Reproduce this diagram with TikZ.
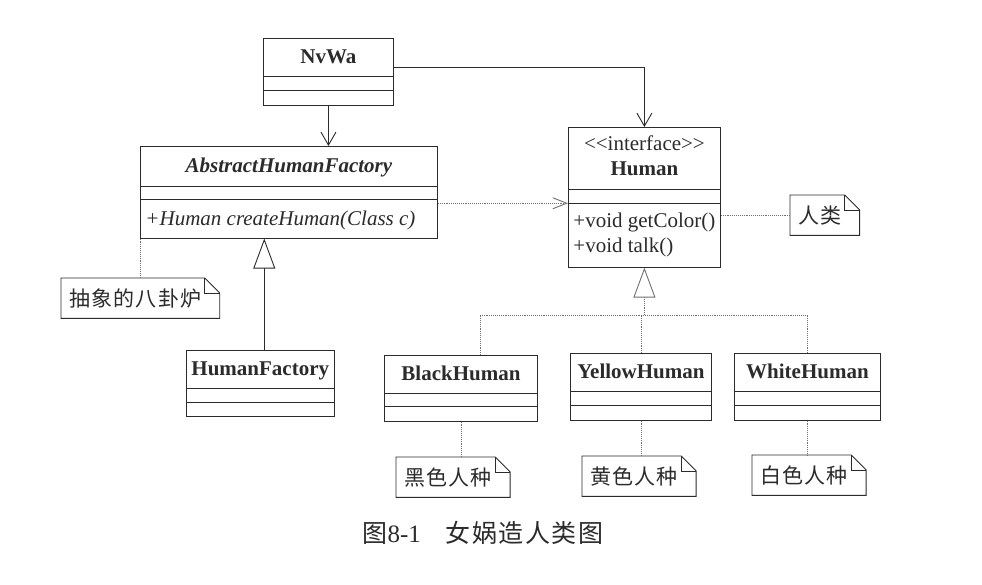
\documentclass[tikz,border=0pt]{standalone}
\usepackage{fontspec}
\setmainfont{Liberation Serif}
\newfontfamily\cjk[LetterSpace=6]{Noto Sans CJK SC}
\usetikzlibrary{arrows.meta,shapes.multipart}
\definecolor{umlink}{HTML}{2B2B2B}
\definecolor{umldots}{HTML}{707070}
\newcommand\titlestrut{\rule[-12pt]{0pt}{37pt}}
\newcommand\slotstrut[1]{\rule{0pt}{#1pt}}

\begin{document}
\begin{tikzpicture}[x=1pt,y=-1pt,
    umlclass/.style={rectangle split,rectangle split parts=3,draw=umlink,
      line width=.9pt,inner xsep=5pt,inner ysep=0pt,anchor=north west,
      rectangle split part align={center,left,left},
      font=\fontsize{21}{25}\selectfont,text=umlink},
    notebox/.style={font=\cjk\fontsize{21}{24}\selectfont,text=umlink,
      inner xsep=8pt,inner ysep=0pt,minimum height=40pt,anchor=north west,
      execute at end node=\hspace{10pt}},
    assoc/.style={draw=umlink,line width=.9pt,-{Straight Barb[length=13pt,width=15pt]}},
    depend/.style={draw=umldots,line width=.9pt,densely dotted,
      -{Straight Barb[length=14pt,width=11pt]}},
    realize/.style={draw=umldots,line width=.9pt,densely dotted,
      -{Triangle[open,length=30pt,width=22pt]}},
    hfrealize/.style={draw=umlink,line width=.9pt,
      -{Triangle[open,length=30pt,width=22pt]}},
    notelink/.style={draw=umldots,line width=.9pt,densely dotted}]
  \fill[white] (0,0) rectangle (982,584);

  % classes
  \node[umlclass,minimum width=130pt] (nvwa) at (263,38)
    {\textbf{NvWa}\titlestrut \nodepart{two}\slotstrut{13} \nodepart{three}\slotstrut{14}};
  \node[umlclass,minimum width=297pt] (ahf) at (140,146)
    {\textbf{\textit{AbstractHumanFactory}}\rule[-13pt]{0pt}{39pt}
     \nodepart{two}\slotstrut{12}
     \nodepart{three}\textit{+Human createHuman(Class c)}\rule[-12pt]{0pt}{38pt}};
  \node[umlclass,minimum width=149pt] (human) at (568,127)
    {\begin{tabular}{@{}c@{}}<{}<interface>{}>\\\textbf{Human}\end{tabular}\rule[-25.5pt]{0pt}{61pt}
     \nodepart{two}\slotstrut{13}
     \nodepart{three}\begin{tabular}{@{}l@{}}+void getColor()\\+void talk()\end{tabular}\rule[-26.5pt]{0pt}{63pt}};
  \node[umlclass,minimum width=147pt] (hf) at (186,350)
    {\textbf{HumanFactory}\titlestrut \nodepart{two}\slotstrut{13} \nodepart{three}\slotstrut{13}};
  \node[umlclass,minimum width=153pt] (blk) at (384,355)
    {\textbf{BlackHuman}\titlestrut \nodepart{two}\slotstrut{12} \nodepart{three}\slotstrut{14}};
  \node[umlclass,minimum width=141pt] (yel) at (570,353)
    {\textbf{YellowHuman}\titlestrut \nodepart{two}\slotstrut{13} \nodepart{three}\slotstrut{14}};
  \node[umlclass,minimum width=146pt] (wht) at (734,353)
    {\textbf{WhiteHuman}\titlestrut \nodepart{two}\slotstrut{13} \nodepart{three}\slotstrut{14}};

  % notes
  \node[notebox] (nabs) at (61,278) {抽象的八卦炉};
  \node[notebox] (nhum) at (790,195) {人类};
  \node[notebox] (nblk) at (396,457) {黑色人种};
  \node[notebox] (nyel) at (582,456) {黄色人种};
  \node[notebox] (nwht) at (752,455) {白色人种};
  \foreach \n in {nabs,nhum,nblk,nyel,nwht}{
    \draw[umlink,line width=.9pt] (\n.south west) -- (\n.north west)
      -- ([xshift=-15pt]\n.north east) -- ([yshift=-15pt]\n.north east)
      -- (\n.south east) -- cycle;
    \draw[umlink,line width=.9pt] ([xshift=-15pt]\n.north east) |- ([yshift=-15pt]\n.north east);
  }

  % connectors
  \draw[assoc] (nvwa.south) -- (nvwa.south |- ahf.north);
  \draw[assoc] ([yshift=4pt]nvwa.east) -| (human.north);
  \draw[depend] (ahf.east |- human.two split) -- (human.west |- human.two split);
  \draw[notelink] (nhum.west -| human.east) -- (nhum.west);
  \draw[notelink] (nabs.north |- ahf.south) -- (nabs.north);
  \draw[hfrealize] ([xshift=4pt]hf.north) -- ([xshift=4pt]hf.north |- ahf.south);

  \coordinate (bus) at (human.south |- 0,315);
  \draw[notelink] ([xshift=19pt]blk.north) |- (bus) -| (wht.north);
  \draw[notelink] (yel.north) -- (yel.north |- bus);
  \draw[realize] (bus) -- (human.south);
  \draw[notelink] (blk.south) -- (blk.south |- nblk.north);
  \draw[notelink] (yel.south) -- (yel.south |- nyel.north);
  \draw[notelink] (wht.south) -- (wht.south |- nwht.north);

  \node[font=\cjk\fontsize{25}{28}\selectfont,text=umlink] (caption) at (483,533)
    {图{\rmfamily 8-1}\quad 女娲造人类图};
\end{tikzpicture}
\end{document}
